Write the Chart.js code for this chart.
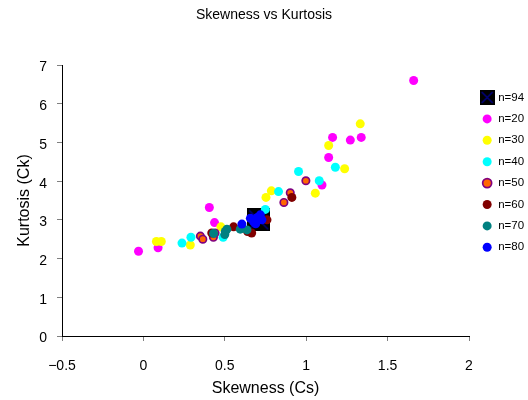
<!DOCTYPE html>
<html>
<head>
<meta charset="utf-8">
<script src="https://cdn.jsdelivr.net/npm/chart.js@4/dist/chart.umd.min.js"></script>
<style>
  html, body { margin: 0; padding: 0; background: #fff; }
  #c { display: block; }
</style>
</head>
<body>
<canvas id="c" width="528" height="400"></canvas>
<script>
// Skewness (Cs) and kurtosis (Ck) by sample size
const seriesNames = ['n=94', 'n=20', 'n=30', 'n=40', 'n=50', 'n=60', 'n=70', 'n=80'];

const n94Cs = [0.708];
const n94Ck = [3.0];

const n20Cs = [-0.03, 0.09, 0.405, 0.437, 1.097, 1.138, 1.162, 1.271, 1.338, 1.66];
const n20Ck = [2.19, 2.28, 3.32, 2.93, 3.90, 4.61, 5.13, 5.06, 5.13, 6.60];

const n30Cs = [0.08, 0.11, 0.288, 0.476, 0.753, 0.786, 1.056, 1.138, 1.236, 1.332];
const n30Ck = [2.44, 2.44, 2.35, 2.82, 3.58, 3.75, 3.69, 4.92, 4.32, 5.48];

const n40Cs = [0.237, 0.292, 0.49, 0.749, 0.83, 0.953, 1.08, 1.179];
const n40Ck = [2.40, 2.55, 2.55, 3.27, 3.73, 4.25, 4.01, 4.36];

const n50Cs = [0.35, 0.365, 0.43, 0.44, 0.863, 0.902, 0.998];
const n50Ck = [2.58, 2.50, 2.55, 2.66, 3.45, 3.70, 4.01];

const n60Cs = [0.42, 0.554, 0.64, 0.665, 0.759, 0.912];
const n60Ck = [2.66, 2.82, 2.70, 2.66, 3.00, 3.58];

const n70Cs = [0.431, 0.50, 0.503, 0.513, 0.595, 0.636];
const n70Ck = [2.65, 2.62, 2.70, 2.76, 2.76, 2.74];

const n80Cs = [0.605, 0.657, 0.677, 0.69, 0.70, 0.718, 0.728];
const n80Ck = [2.89, 3.04, 2.95, 2.90, 3.06, 3.13, 3.00];

const xTicks = [-0.5, 0, 0.5, 1, 1.5, 2];
const xTickLabels = ['\u22120.5', '0', '0.5', '1', '1.5', '2'];
const yTicks = [0, 1, 2, 3, 4, 5, 6, 7];
const yTickLabels = ['0', '1', '2', '3', '4', '5', '6', '7'];

// Black square marker with a navy cross for the full record
function crossSquare(size) {
  const c = document.createElement('canvas');
  c.width = size; c.height = size;
  const g = c.getContext('2d');
  g.fillStyle = '#000000';
  g.fillRect(0, 0, size, size);
  g.strokeStyle = '#000080';
  g.lineWidth = 1.5;
  g.beginPath();
  g.moveTo(2, 2); g.lineTo(size - 2, size - 2);
  g.moveTo(size - 2, 2); g.lineTo(2, size - 2);
  g.stroke();
  return c;
}
const bigSquare = crossSquare(23);
const legendSquare = crossSquare(15);

function pts(xs, ys) { return xs.map((x, i) => ({ x: x, y: ys[i] })); }

// Later series are painted over earlier ones
function series(i, xs, ys, fill, stroke, radius, border, style) {
  return {
    label: seriesNames[i],
    data: pts(xs, ys),
    order: -i,
    pointStyle: style || 'circle',
    pointRadius: radius,
    pointBackgroundColor: fill,
    pointBorderColor: stroke,
    pointBorderWidth: border,
    backgroundColor: fill,
    borderColor: stroke,
    borderWidth: border,
    showLine: false
  };
}

const datasets = [
  series(0, n94Cs, n94Ck, '#000000', '#000080', 11.5, 0, bigSquare),
  series(1, n20Cs, n20Ck, '#FF00FF', '#FF00FF', 4.5, 0),
  series(2, n30Cs, n30Ck, '#FFFF00', '#FFFF00', 4.5, 0),
  series(3, n40Cs, n40Ck, '#00FFFF', '#00FFFF', 4.5, 0),
  series(4, n50Cs, n50Ck, '#FF6600', '#800080', 3.7, 1.7),
  series(5, n60Cs, n60Ck, '#800000', '#800000', 4.5, 0),
  series(6, n70Cs, n70Ck, '#008080', '#008080', 4.5, 0),
  series(7, n80Cs, n80Ck, '#0000FF', '#0000FF', 4.5, 0)
];

Chart.defaults.font.family = "'Liberation Sans', Arial, sans-serif";
Chart.defaults.color = '#000000';

new Chart(document.getElementById('c'), {
  type: 'scatter',
  data: { datasets: datasets },
  options: {
    responsive: false,
    animation: false,
    events: [],
    layout: { padding: 0 },
    plugins: {
      tooltip: { enabled: false },
      title: {
        display: true,
        text: 'Skewness vs Kurtosis',
        color: '#000000',
        font: { size: 14, weight: 'normal' },
        padding: { top: 6.6, bottom: 41.6 }
      },
      legend: {
        display: true,
        position: 'right',
        align: 'start',
        maxWidth: 56,
        title: { display: true, text: '', font: { size: 10, lineHeight: 1 }, padding: { top: 71.85, bottom: 0 } },
        labels: {
          usePointStyle: true,
          boxWidth: 10.5,
          boxHeight: 6.36,
          padding: 9.9,
          color: '#000000',
          font: { size: 11.5 },
          generateLabels(chart) {
            const items = Chart.defaults.plugins.legend.labels.generateLabels(chart);
            items.sort((a, b) => a.datasetIndex - b.datasetIndex);
            items.forEach(it => { if (it.datasetIndex === 0) it.pointStyle = legendSquare; });
            return items;
          }
        }
      }
    },
    scales: {
      x: {
        type: 'linear',
        min: -0.5,
        max: 2,
        afterBuildTicks(s) { s.ticks = xTicks.map(v => ({ value: v })); },
        afterFit(s) { s.height = 64; },
        ticks: {
          callback: (v, i) => xTickLabels[i],
          font: { size: 14 },
          color: '#000000',
          padding: 16.5,
          maxRotation: 0,
          autoSkip: false
        },
        grid: { display: true, drawOnChartArea: false, drawTicks: true, tickLength: 5, color: '#808080' },
        border: { display: true, color: '#000000', width: 1 },
        title: {
          display: true,
          text: 'Skewness (Cs)',
          color: '#000000',
          font: { size: 16 },
          padding: { top: 0, bottom: 1.8 }
        }
      },
      y: {
        type: 'linear',
        min: 0,
        max: 7,
        afterBuildTicks(s) { s.ticks = yTicks.map(v => ({ value: v })); },
        afterFit(s) { s.width = 62; },
        ticks: {
          callback: (v, i) => yTickLabels[i],
          font: { size: 14 },
          color: '#000000',
          padding: 10,
          labelOffset: 2.5,
          autoSkip: false
        },
        grid: { display: true, drawOnChartArea: false, drawTicks: true, tickLength: 5, color: '#808080' },
        border: { display: true, color: '#000000', width: 1 },
        title: {
          display: true,
          text: 'Kurtosis (Ck)',
          color: '#000000',
          font: { size: 16 },
          padding: { top: 15.4, bottom: 0 }
        }
      },
      gap: {
        axis: 'y',
        type: 'linear',
        position: 'right',
        display: true,
        afterFit(s) { s.width = 3; },
        ticks: { display: false },
        grid: { display: false },
        border: { display: false }
      }
    }
  }
});
</script>
</body>
</html>
